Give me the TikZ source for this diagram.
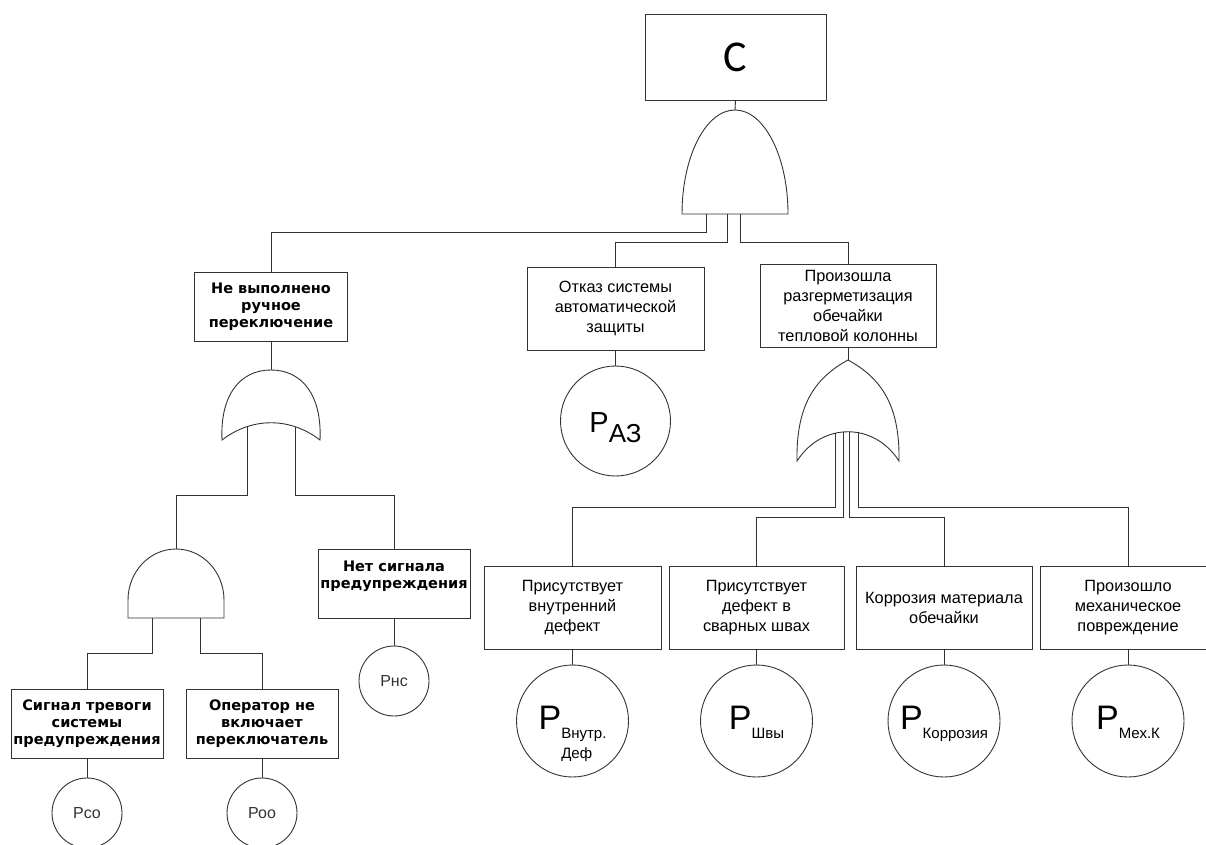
\documentclass[tikz,border=0pt]{standalone}
\usepackage{fontspec}
\setmainfont{Liberation Sans}
\newfontfamily\boldface{DejaVu Sans}
\newfontfamily\topface{Carlito}

\tikzset{
  event/.style={draw=black!80, line width=0.9pt, align=center, inner sep=2pt,
    minimum width=176pt, minimum height=83pt, font=\fontsize{16.3}{20}\selectfont},
  manual/.style={event, minimum width=152pt, minimum height=69pt,
    font=\boldface\bfseries\fontsize{14.5}{17}\selectfont},
  basic/.style={draw=black!80, line width=0.9pt, circle, inner sep=0pt},
  bigbasic/.style={basic, minimum size=112pt, text height=30pt, text depth=14pt},
  gate/.style={draw=black!80, line width=0.9pt, fill=white},
  wire/.style={draw=black!80, line width=0.9pt}
}
\newcommand{\pwith}[1]{{\fontsize{34}{34}\selectfont P}\raisebox{-9pt}{\fontsize{15}{20}\selectfont\begin{tabular}[t]{@{}l@{}}#1\end{tabular}}}

\begin{document}
\begin{tikzpicture}[x=1pt, y=-1pt]
  \useasboundingbox (0,0) rectangle (1206,845);

  % top event and its AND gate
  \node[event, minimum width=181pt, minimum height=86pt, font=\topface\fontsize{44}{44}\selectfont] (top) at (735.5,57) {C};
  \coordinate (andT) at (735,110);
  \draw[gate] (682,214) arc[start angle=180, end angle=0, x radius=53pt, y radius=104pt] -- cycle;
  \coordinate (andT-o1) at (706,214);
  \coordinate (andT-o2) at (727,214);
  \coordinate (andT-o3) at (740,214);
  \draw[wire] (top.south) -- (andT);

  % first level events
  \node[manual, minimum width=153pt] (nomanual) at (271,306.5) {Не выполнено\\ручное\\переключение};
  \node[event, minimum width=177pt] (autoprot) at (615.5,308.5) {Отказ системы\\автоматической\\защиты};
  \node[event] (depress) at (848,305.5) {Произошла\\разгерметизация\\обечайки\\тепловой колонны};
  \draw[wire] (andT-o1) -- ++(0,18) -| (nomanual.north);
  \draw[wire] (andT-o2) -- ++(0,28) -| (autoprot.north);
  \draw[wire] (andT-o3) -- ++(0,28) -| (depress.north);

  % left branch: OR gate
  \coordinate (orL) at (271,370);
  \draw[gate] (222,440) .. controls (220,395) and (240,370) .. (orL)
    .. controls (302,370) and (322,395) .. (320,440)
    .. controls (290,417) and (252,417) .. (222,440) -- cycle;
  \coordinate (orL-o1) at (247,427);
  \coordinate (orL-o2) at (295,427);
  \draw[wire] (nomanual.south) -- (orL);

  % left branch: AND gate and events
  \coordinate (andL) at (176,549);
  \draw[gate] (128,618) -- (128,600) arc[start angle=180, end angle=0, x radius=48pt, y radius=51pt] -- (224,618) -- cycle;
  \coordinate (andL-o1) at (152,618);
  \coordinate (andL-o2) at (200,618);
  \node[manual] (nosignal) at (394,583.5) {Нет сигнала\\предупреждения\\\mbox{}};
  \draw[wire] (orL-o1) -- ++(0,68) -| (andL);
  \draw[wire] (orL-o2) -- ++(0,68) -| (nosignal.north);

  \node[manual] (alarm) at (87,723.5) {Сигнал тревоги\\системы\\предупреждения};
  \node[manual] (operator) at (262,723.5) {Оператор не\\включает\\переключатель};
  \draw[wire] (andL-o1) -- ++(0,35) -| (alarm.north);
  \draw[wire] (andL-o2) -- ++(0,35) -| (operator.north);

  % left basic events
  \node[basic, minimum size=70pt, font=\fontsize{16}{16}\selectfont, text=black!80] (pso) at (87,813) {Рсо};
  \node[basic, minimum size=70pt, font=\fontsize{16}{16}\selectfont, text=black!80] (poo) at (262,813) {Роо};
  \node[basic, minimum size=70pt, font=\fontsize{16}{16}\selectfont, text=black!80] (pns) at (394,681) {Рнс};
  \draw[wire] (alarm.south) -- (pso);
  \draw[wire] (operator.south) -- (poo);
  \draw[wire] (nosignal.south) -- (pns);

  % automatic protection
  \node[basic, minimum size=110pt, text height=30pt, text depth=8pt] (paz) at (615.5,421)
    {{\fontsize{29}{29}\selectfont P}\raisebox{-10pt}{\fontsize{26}{26}\selectfont АЗ}};
  \draw[wire] (autoprot.south) -- (paz);

  % right branch: OR gate
  \coordinate (orR) at (848,360);
  \draw[gate] (797,461) .. controls (796,405) and (815,378) .. (orR)
    .. controls (881,378) and (900,405) .. (899,461)
    .. controls (874,422) and (822,422) .. (797,461) -- cycle;
  \coordinate (orR-o1) at (835,433);
  \coordinate (orR-o2) at (843,432);
  \coordinate (orR-o3) at (849,432);
  \coordinate (orR-o4) at (858,432);
  \draw[wire] (depress.south) -- (orR);

  % right branch events
  \node[event, minimum width=177pt] (intdef) at (572.5,607.5) {Присутствует\\внутренний\\дефект};
  \node[event, minimum width=175pt] (welddef) at (756.5,607.5) {Присутствует\\дефект в\\сварных швах};
  \node[event] (corros) at (944,607.5) {Коррозия материала\\обечайки};
  \node[event] (mechdmg) at (1128,607.5) {Произошло\\механическое\\повреждение};
  \draw[wire] (orR-o1) -- ++(0,74) -| (intdef.north);
  \draw[wire] (orR-o2) -- ++(0,85) -| (welddef.north);
  \draw[wire] (orR-o3) -- ++(0,85) -| (corros.north);
  \draw[wire] (orR-o4) -- ++(0,75) -| (mechdmg.north);

  % right basic events
  \node[bigbasic] (pint) at (572.5,721) {\pwith{Внутр.\\Деф}};
  \node[bigbasic] (pweld) at (756.5,721) {\pwith{Швы}};
  \node[bigbasic] (pcor) at (944,721) {\pwith{Коррозия}};
  \node[bigbasic] (pmech) at (1128,721) {\pwith{Мех.К}};
  \draw[wire] (intdef.south) -- (pint);
  \draw[wire] (welddef.south) -- (pweld);
  \draw[wire] (corros.south) -- (pcor);
  \draw[wire] (mechdmg.south) -- (pmech);
\end{tikzpicture}
\end{document}
